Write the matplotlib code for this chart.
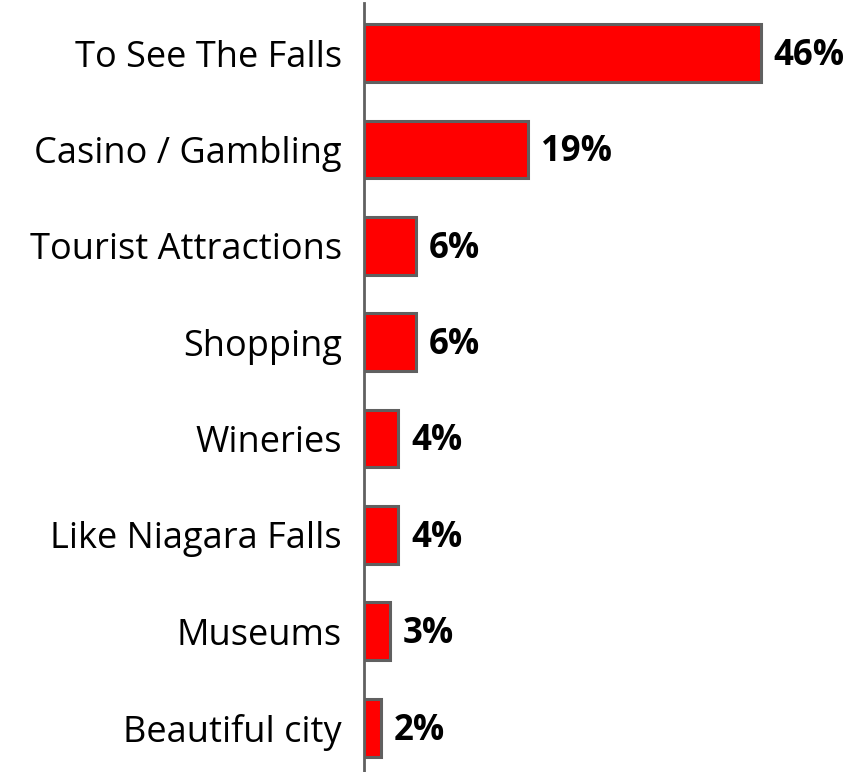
import matplotlib
matplotlib.use("Agg")
import matplotlib.pyplot as plt

categories = ["To See The Falls", "Casino / Gambling", "Tourist Attractions", "Shopping",
              "Wineries", "Like Niagara Falls", "Museums", "Beautiful city"]
values = [46, 19, 6, 6, 4, 4, 3, 2]
value_labels = ["46%", "19%", "6%", "6%", "4%", "4%", "3%", "2%"]

fig = plt.figure(figsize=(8.64, 7.72), dpi=100)
ax = fig.add_axes([364/864, 0.0, 1 - 364/864, 1 - 3/772])

y = list(range(len(categories)))
ax.barh(y, values, height=0.6, color="#ff0000", edgecolor="#606060", linewidth=2.2)
ax.set_ylim(7.46, -0.52)
ax.set_xlim(0, 58)

ax.set_yticks(y)
ax.set_yticklabels(categories, fontsize=26, family="Open Sans")
ax.tick_params(axis="y", length=0, pad=16)
ax.set_xticks([])
for s in ["top", "right", "bottom"]:
    ax.spines[s].set_visible(False)
ax.spines["left"].set_color("#606060")
ax.spines["left"].set_linewidth(2)

for yi, v, lab in zip(y, values, value_labels):
    ax.text(v + 1.5, yi + 0.03, lab, va="center", ha="left", fontsize=25,
            fontweight="bold", family="Open Sans")

fig.savefig("out.png", dpi=100)
